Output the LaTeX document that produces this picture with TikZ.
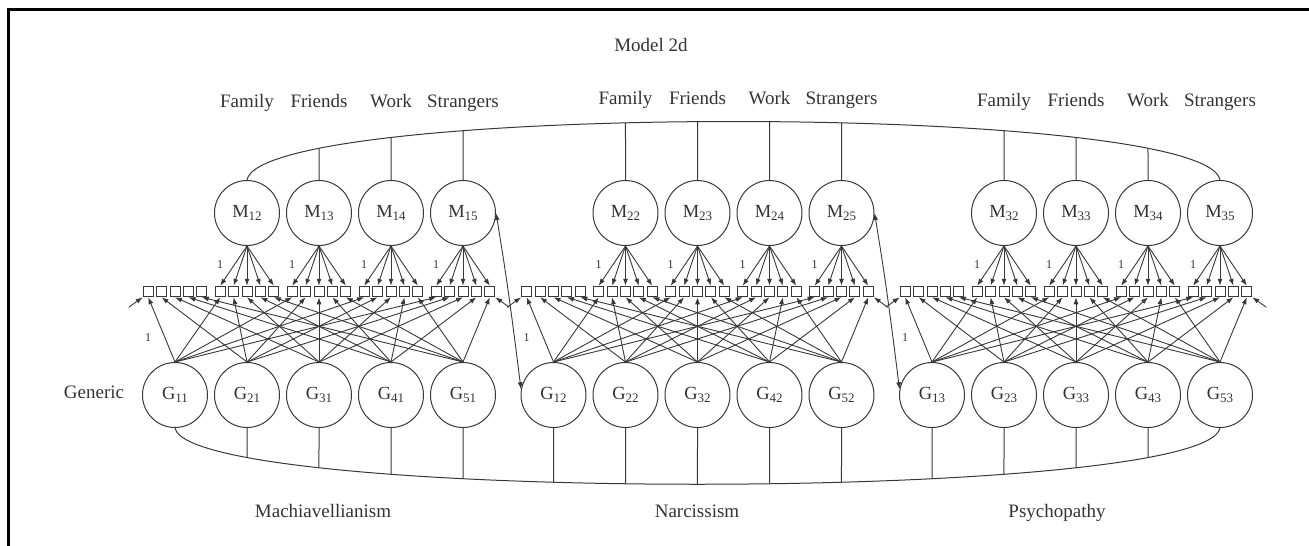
\documentclass[tikz,border=0pt]{standalone}
\usepackage{fontspec}
\setmainfont{Liberation Serif}
\usetikzlibrary{arrows.meta,intersections,calc}

\definecolor{linec}{gray}{0.22}
\definecolor{textc}{gray}{0.2}

% latent variable label with lowered, smaller index
\newcommand{\lvar}[2]{#1\raisebox{-0.35ex}{\fontsize{13}{13}\selectfont #2}}

\begin{document}
\begin{tikzpicture}[x=1pt,y=-1pt,
  latent/.style={circle, draw=linec, line width=1pt, minimum size=65pt,
    inner sep=0pt, font=\fontsize{18.5}{18.5}\selectfont, text=textc},
  item/.style={rectangle, draw=linec, line width=1pt, minimum width=10pt,
    minimum height=10.5pt, inner sep=0pt},
  tip/.tip={Latex[length=7pt,width=5pt]},
  load/.style={-tip, draw=linec, line width=0.9pt},
  corr/.style={tip-tip, draw=linec, line width=0.9pt},
  conn/.style={draw=linec, line width=1pt},
  lab/.style={font=\fontsize{19}{19}\selectfont, text=textc, inner sep=0pt, anchor=base},
  one/.style={font=\fontsize{12}{12}\selectfont, text=textc, inner sep=0pt},
  frame/.style={draw=black, line width=3pt}]

\useasboundingbox (0,0) rectangle (1309,546);

% outer frame (top and left edges)
\draw[frame] (8,546) -- (8,9) -- (1309,9);

% title
\node[lab] (title) at (651,51) {Model 2d};

% three trait blocks: generic factors, items, context factors
\foreach \b in {1,2,3} {
  \pgfmathsetmacro\bx{175+378.5*(\b-1)}
  \foreach \g in {1,...,5} {
    \pgfmathsetmacro\gc{\bx+72*(\g-1)}
    \node[latent] (G\g\b) at (\gc,395) {\lvar{G}{\g\b}};
    \foreach \i in {1,...,5} {
      \node[item] (x\b\g\i) at ({\gc+13.4*(\i-3)},291.5) {};
    }
  }
  \foreach \k in {2,...,5} {
    \pgfmathsetmacro\gc{\bx+72*(\k-1)}
    \node[latent] (M\b\k) at (\gc,213) {\lvar{M}{\b\k}};
  }
}

% context labels
\foreach \b/\yb in {1/107,2/104,3/106} {
  \node[lab] (fam\b) at (M\b2 |- 0,\yb) {Family};
  \node[lab] (fri\b) at (M\b3 |- 0,\yb) {Friends};
  \node[lab] (wor\b) at (M\b4 |- 0,\yb) {Work};
  \node[lab] (str\b) at (M\b5 |- 0,\yb) {Strangers};
}

% loadings
\foreach \b in {1,2,3} {
  % context factors onto their item groups
  \foreach \k in {2,...,5} {
    \foreach \i in {1,...,5} {
      \draw[load] (M\b\k.south) -- (x\b\k\i.north);
    }
    \node[one] (one\b\k) at ($(M\b\k.south)+(-27,19)$) {1};
  }
  % generic factors onto the same item position in every group
  \foreach \j in {1,...,5} {
    \foreach \g in {1,...,5} {
      \draw[load] (G\j\b.north) -- (x\b\g\j.south);
    }
  }
  \node[one] (oneg\b) at ($(x\b11.south)+(0,40)$) {1};
  % short incoming arrows at both ends of the item row
  \coordinate (sl\b) at ($(x\b11.south west)+(-14,10)$);
  \coordinate (sr\b) at ($(x\b55.south east)+(14,10)$);
  \draw[load] (sl\b) -- (x\b11.south west);
  \draw[load] (sr\b) -- (x\b55.south east);
}

% trait arcs joining context factors (top) and generic factors (bottom)
\draw[conn, name path=toparc] (M12.north) .. controls +(14,-78) and +(-14,-78) .. (M35.north);
\draw[conn, name path=botarc] (G11.south) .. controls +(15,75) and +(-15,75) .. (G53.south);

\foreach \n in {M13,M14,M15,M22,M23,M24,M25,M32,M33,M34} {
  \path[name path=vup] (\n.north) -- ++(0,-120);
  \draw[conn, name intersections={of=toparc and vup, by=t\n}] (\n.north) -- (t\n);
}
\foreach \n in {G21,G31,G41,G51,G12,G22,G32,G42,G52,G13,G23,G33,G43} {
  \path[name path=vdn] (\n.south) -- ++(0,120);
  \draw[conn, name intersections={of=botarc and vdn, by=b\n}] (\n.south) -- (b\n);
}

% correlations between blocks
\draw[corr] (M15.east) .. controls +(10,60) and +(-10,-80) .. (G12.170);
\draw[corr] (M25.east) .. controls +(10,60) and +(-10,-80) .. (G13.170);

% side and bottom labels
\node[lab] (generic) at (94,398) {Generic};
\node[lab] (mach) at (323,517) {Machiavellianism};
\node[lab] (narc) at (697,517) {Narcissism};
\node[lab] (psych) at (1057,517) {Psychopathy};

\end{tikzpicture}
\end{document}
